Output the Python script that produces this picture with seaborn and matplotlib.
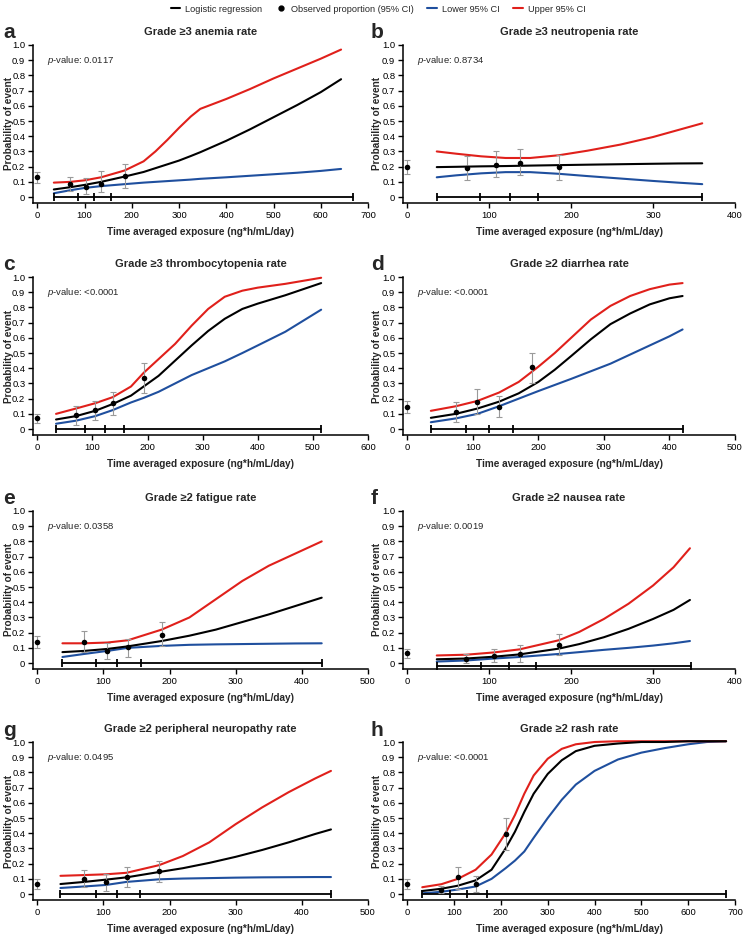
import matplotlib
matplotlib.use("Agg")
import matplotlib.pyplot as plt
import seaborn as sns
from matplotlib.lines import Line2D

# ---------------- data ----------------
panel_letters = ["a", "b", "c", "d", "e", "f", "g", "h"]
titles = ["Grade \u22653 anemia rate", "Grade \u22653 neutropenia rate",
          "Grade \u22653 thrombocytopenia rate", "Grade \u22652 diarrhea rate",
          "Grade \u22652 fatigue rate", "Grade \u22652 nausea rate",
          "Grade \u22652 peripheral neuropathy rate", "Grade \u22652 rash rate"]
p_values = ["0.0117", "0.8734", "<0.0001", "<0.0001", "0.0358", "0.0019", "0.0495", "<0.0001"]
x_max = [700, 400, 600, 500, 500, 400, 500, 700]
y_ticks = [0, 0.1, 0.2, 0.3, 0.4, 0.5, 0.6, 0.7, 0.8, 0.9, 1.0]
y_tick_labels = ["0", "0.1", "0.2", "0.3", "0.4", "0.5", "0.6", "0.7", "0.8", "0.9", "1.0"]

# curve grids (exposure) and read-off probabilities
a_grid = [35, 70, 100, 135, 185, 225, 250, 275, 300, 325, 345, 400, 450, 500, 550, 600, 643]
a_fit = [0.05, 0.065, 0.08, 0.10, 0.135, 0.165, 0.19, 0.215, 0.24, 0.27, 0.295, 0.37, 0.445, 0.525, 0.605, 0.69, 0.775]
a_upper = [0.095, 0.10, 0.11, 0.13, 0.175, 0.235, 0.30, 0.375, 0.455, 0.53, 0.58, 0.645, 0.71, 0.78, 0.845, 0.91, 0.97]
a_lower = [0.025, 0.045, 0.06, 0.072, 0.085, 0.095, 0.10, 0.105, 0.11, 0.115, 0.12, 0.13, 0.14, 0.15, 0.16, 0.172, 0.185]

b_grid = [36, 60, 90, 120, 150, 185, 220, 260, 300, 330, 360]
b_fit = [0.197, 0.199, 0.202, 0.204, 0.207, 0.21, 0.213, 0.216, 0.219, 0.221, 0.222]
b_upper = [0.30, 0.285, 0.268, 0.257, 0.257, 0.275, 0.305, 0.345, 0.395, 0.44, 0.485]
b_lower = [0.13, 0.143, 0.156, 0.164, 0.164, 0.153, 0.138, 0.122, 0.106, 0.095, 0.085]

c_grid = [34, 70, 105, 137, 170, 193, 220, 250, 280, 310, 340, 372, 400, 450, 515]
c_fit = [0.063, 0.085, 0.12, 0.165, 0.22, 0.28, 0.35, 0.45, 0.55, 0.645, 0.725, 0.79, 0.825, 0.88, 0.96]
c_upper = [0.10, 0.135, 0.17, 0.21, 0.28, 0.37, 0.46, 0.56, 0.68, 0.79, 0.87, 0.91, 0.93, 0.955, 0.995]
c_lower = [0.035, 0.055, 0.085, 0.125, 0.175, 0.205, 0.245, 0.30, 0.355, 0.40, 0.445, 0.50, 0.55, 0.64, 0.785]

d_grid = [36, 74, 107, 140, 170, 200, 225, 250, 280, 310, 340, 370, 400, 420]
d_fit = [0.074, 0.10, 0.135, 0.18, 0.235, 0.31, 0.39, 0.48, 0.59, 0.69, 0.76, 0.82, 0.86, 0.875]
d_upper = [0.12, 0.15, 0.185, 0.24, 0.31, 0.41, 0.50, 0.60, 0.72, 0.81, 0.875, 0.92, 0.95, 0.96]
d_lower = [0.045, 0.07, 0.10, 0.15, 0.20, 0.25, 0.29, 0.33, 0.38, 0.43, 0.49, 0.55, 0.61, 0.655]

e_grid = [38, 71, 106, 137, 188, 230, 270, 310, 350, 390, 430]
e_fit = [0.072, 0.08, 0.093, 0.11, 0.145, 0.18, 0.22, 0.27, 0.32, 0.375, 0.43]
e_upper = [0.13, 0.13, 0.135, 0.15, 0.22, 0.30, 0.42, 0.54, 0.64, 0.72, 0.80]
e_lower = [0.04, 0.06, 0.08, 0.10, 0.113, 0.12, 0.123, 0.125, 0.127, 0.129, 0.13]

f_grid = [36, 72, 106, 137, 185, 210, 240, 270, 300, 325, 345]
f_fit = [0.025, 0.03, 0.042, 0.057, 0.095, 0.125, 0.17, 0.225, 0.29, 0.35, 0.415]
f_upper = [0.05, 0.055, 0.07, 0.09, 0.15, 0.205, 0.29, 0.39, 0.51, 0.63, 0.755]
f_lower = [0.01, 0.017, 0.03, 0.04, 0.06, 0.072, 0.087, 0.10, 0.115, 0.13, 0.145]

g_grid = [35, 71, 104, 135, 184, 220, 260, 300, 340, 380, 420, 444]
g_fit = [0.066, 0.08, 0.095, 0.11, 0.145, 0.17, 0.205, 0.245, 0.29, 0.34, 0.395, 0.425]
g_upper = [0.12, 0.125, 0.13, 0.14, 0.19, 0.25, 0.34, 0.46, 0.57, 0.67, 0.76, 0.81]
g_lower = [0.04, 0.05, 0.06, 0.08, 0.097, 0.102, 0.105, 0.108, 0.11, 0.111, 0.112, 0.112]

h_grid = [32, 73, 108, 146, 180, 210, 230, 250, 270, 300, 330, 360, 400, 450, 500, 550, 600, 640, 681]
h_fit = [0.02, 0.035, 0.055, 0.09, 0.16, 0.30, 0.41, 0.54, 0.66, 0.79, 0.88, 0.94, 0.975, 0.99, 1.0, 1.0, 1.005, 1.005, 1.005]
h_upper = [0.045, 0.065, 0.10, 0.16, 0.26, 0.40, 0.52, 0.66, 0.78, 0.89, 0.955, 0.985, 1.0, 1.005, 1.005, 1.005, 1.005, 1.005, 1.005]
h_lower = [0.005, 0.015, 0.03, 0.05, 0.10, 0.17, 0.22, 0.28, 0.37, 0.50, 0.62, 0.72, 0.81, 0.885, 0.93, 0.96, 0.985, 1.0, 1.005]

# observed proportions with 95% CI
a_obs_x = [0, 70, 104, 134, 185]
a_obs_y = [0.13, 0.085, 0.065, 0.085, 0.14]
a_obs_lo = [0.09, 0.04, 0.02, 0.035, 0.06]
a_obs_hi = [0.165, 0.135, 0.125, 0.17, 0.22]
b_obs_x = [0, 73, 108, 138, 185]
b_obs_y = [0.20, 0.19, 0.213, 0.223, 0.195]
b_obs_lo = [0.153, 0.112, 0.133, 0.142, 0.109]
b_obs_hi = [0.247, 0.27, 0.303, 0.318, 0.275]
c_obs_x = [0, 70, 105, 137, 193]
c_obs_y = [0.07, 0.09, 0.124, 0.17, 0.333]
c_obs_lo = [0.04, 0.03, 0.06, 0.09, 0.235]
c_obs_hi = [0.10, 0.15, 0.187, 0.246, 0.433]
d_obs_x = [0, 74, 107, 140, 191]
d_obs_y = [0.148, 0.111, 0.18, 0.148, 0.405]
d_obs_lo = [0.107, 0.046, 0.10, 0.078, 0.30]
d_obs_hi = [0.185, 0.176, 0.262, 0.22, 0.503]
e_obs_x = [0, 71, 106, 137, 188]
e_obs_y = [0.137, 0.137, 0.078, 0.104, 0.184]
e_obs_lo = [0.10, 0.07, 0.03, 0.04, 0.11]
e_obs_hi = [0.175, 0.21, 0.13, 0.16, 0.27]
f_obs_x = [0, 72, 106, 137, 185]
f_obs_y = [0.063, 0.026, 0.048, 0.059, 0.116]
f_obs_lo = [0.033, 0.0, 0.01, 0.01, 0.05]
f_obs_hi = [0.094, 0.057, 0.094, 0.116, 0.19]
g_obs_x = [0, 71, 104, 135, 184]
g_obs_y = [0.068, 0.10, 0.077, 0.112, 0.151]
g_obs_lo = [0.035, 0.045, 0.022, 0.046, 0.077]
g_obs_hi = [0.10, 0.16, 0.13, 0.178, 0.215]
h_obs_x = [0, 73, 108, 146, 210]
h_obs_y = [0.066, 0.028, 0.109, 0.066, 0.395]
h_obs_lo = [0.033, 0.007, 0.035, 0.015, 0.29]
h_obs_hi = [0.098, 0.05, 0.177, 0.116, 0.50]

# exposure quartile bars: min, Q1, median, Q3, max
a_quart = [35, 87, 121, 156, 668]
b_quart = [36, 89, 125, 159, 360]
c_quart = [34, 87, 122, 158, 515]
d_quart = [36, 90, 125, 161, 420]
e_quart = [38, 89, 121, 157, 431]
f_quart = [36, 90, 124, 157, 346]
g_quart = [35, 88, 120, 155, 444]
h_quart = [32, 92, 127, 170, 681]
quart_level = [0, 0, 0, 0, 0, -0.02, 0, 0]

grids = [a_grid, b_grid, c_grid, d_grid, e_grid, f_grid, g_grid, h_grid]
fits = [a_fit, b_fit, c_fit, d_fit, e_fit, f_fit, g_fit, h_fit]
uppers = [a_upper, b_upper, c_upper, d_upper, e_upper, f_upper, g_upper, h_upper]
lowers = [a_lower, b_lower, c_lower, d_lower, e_lower, f_lower, g_lower, h_lower]
obs = [(a_obs_x, a_obs_y, a_obs_lo, a_obs_hi), (b_obs_x, b_obs_y, b_obs_lo, b_obs_hi),
       (c_obs_x, c_obs_y, c_obs_lo, c_obs_hi), (d_obs_x, d_obs_y, d_obs_lo, d_obs_hi),
       (e_obs_x, e_obs_y, e_obs_lo, e_obs_hi), (f_obs_x, f_obs_y, f_obs_lo, f_obs_hi),
       (g_obs_x, g_obs_y, g_obs_lo, g_obs_hi), (h_obs_x, h_obs_y, h_obs_lo, h_obs_hi)]
quarts = [a_quart, b_quart, c_quart, d_quart, e_quart, f_quart, g_quart, h_quart]

# ---------------- style ----------------
sns.set_style("ticks")
plt.rcParams["font.family"] = ["Liberation Sans", "DejaVu Sans"]
plt.rcParams["mathtext.fontset"] = "custom"
plt.rcParams["mathtext.rm"] = "Liberation Sans"
plt.rcParams["mathtext.it"] = "Liberation Sans:italic"

RED = "#e0201b"
BLUE = "#1f4f9e"
GREY = "#9a9a9a"

W, H = 746, 935
fig = plt.figure(figsize=(W / 100, H / 100), dpi=100)

row_tops = [45, 277, 511, 742]
col_left = [33, 403]
col_width = [335, 332]
ax_h = 158

for i in range(8):
    r, c = divmod(i, 2)
    top = row_tops[r]
    ax = fig.add_axes([col_left[c] / W, 1 - (top + ax_h) / H, col_width[c] / W, ax_h / H])
    xm = x_max[i]
    gx = grids[i]
    sns.lineplot(x=gx, y=fits[i], ax=ax, color="black", lw=1.5, sort=False,
                 estimator=None, clip_on=False, zorder=4)
    sns.lineplot(x=gx, y=lowers[i], ax=ax, color=BLUE, lw=1.5, sort=False,
                 estimator=None, clip_on=False, zorder=3)
    sns.lineplot(x=gx, y=uppers[i], ax=ax, color=RED, lw=1.5, sort=False,
                 estimator=None, clip_on=False, zorder=3)
    ox, oy, olo, ohi = obs[i]
    yerr = [[y - l for y, l in zip(oy, olo)], [h - y for y, h in zip(oy, ohi)]]
    ax.errorbar(ox, oy, yerr=yerr, fmt="none", ecolor=GREY, elinewidth=0.8,
                capsize=2.5, capthick=0.8, zorder=5, clip_on=False)
    sns.scatterplot(x=ox, y=oy, ax=ax, color="black", s=16, edgecolor="black",
                    linewidth=0, zorder=6, clip_on=False)
    q = quarts[i]
    lvl = quart_level[i]
    ax.plot([q[0], q[-1]], [lvl, lvl], color="black", lw=1.3, zorder=4, clip_on=False)
    ax.plot(q, [lvl] * len(q), linestyle="none", marker="|", markersize=6,
            mew=1.3, color="black", zorder=4, clip_on=False)

    ax.set_xlim(-0.013 * xm, xm)
    ax.set_ylim(-0.039, 1.0)
    ax.set_xticks(list(range(0, xm + 1, 100)))
    ax.set_yticks(y_ticks)
    ax.set_yticklabels(y_tick_labels)
    ax.tick_params(axis="both", labelsize=6.8, length=3.5, width=1.0, pad=2,
                   direction="out", colors="black")
    for s in ["top", "right"]:
        ax.spines[s].set_visible(False)
    for s in ["left", "bottom"]:
        ax.spines[s].set_linewidth(1.1)
        ax.spines[s].set_color("black")

    ax.set_xlabel("Time averaged exposure (ng*h/mL/day)", fontsize=7.2, fontweight="bold")
    ax.set_ylabel("Probability of event", fontsize=7.2, fontweight="bold")
    ax.xaxis.set_label_coords(0.5, -0.15)
    ax.yaxis.set_label_coords(-0.058 if c == 0 else -0.064, 0.5)
    ax.set_title(titles[i], fontsize=8, fontweight="bold", pad=7)
    ax.text(0.042, 0.9, "$p$-value: " + p_values[i], transform=ax.get_yaxis_transform(),
            fontsize=6.8, va="center", ha="left")
    letter_x = 3 if c == 0 else 371
    fig.text(letter_x / W, 1 - (top - 12) / H, panel_letters[i], fontsize=15,
             fontweight="bold", va="center", ha="left")

handles = [Line2D([0], [0], color="black", lw=1.5),
           Line2D([0], [0], color="black", marker="o", linestyle="none", markersize=3.5),
           Line2D([0], [0], color=BLUE, lw=1.5),
           Line2D([0], [0], color=RED, lw=1.5)]
labels = ["Logistic regression", "Observed proportion (95% CI)", "Lower 95% CI", "Upper 95% CI"]
fig.legend(handles, labels, loc="center", ncol=4, frameon=False, fontsize=6.6,
           bbox_to_anchor=(0.507, 1 - 9 / H), handlelength=1.0, handletextpad=0.6,
           columnspacing=1.5)

fig.savefig("out.png", dpi=100)
